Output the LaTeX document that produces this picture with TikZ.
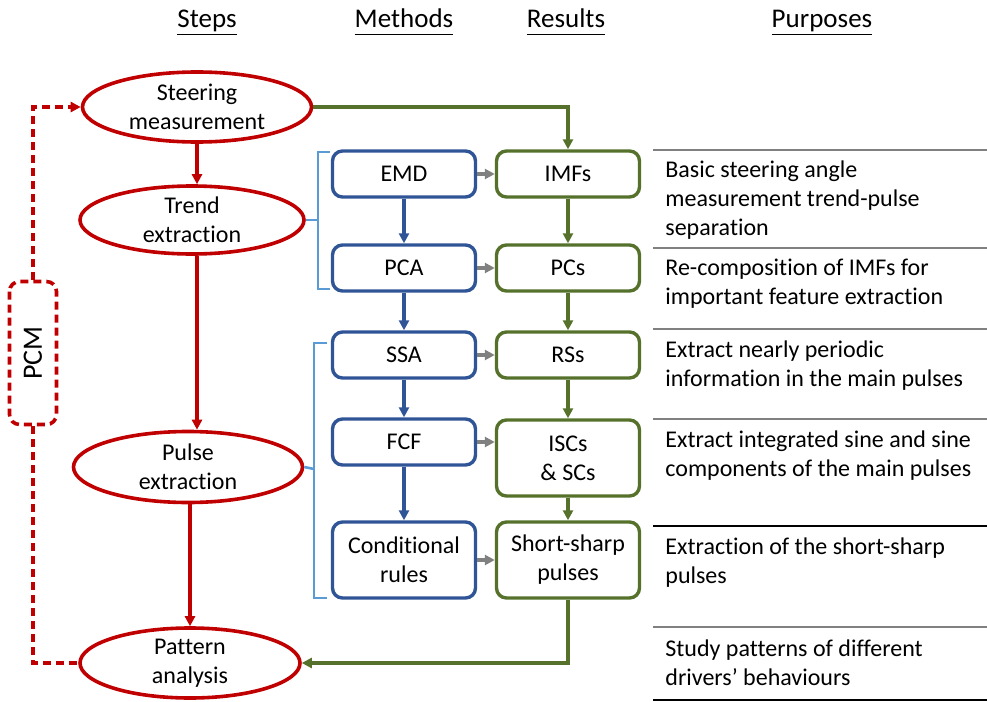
\documentclass[tikz,border=0pt]{standalone}
\usepackage{fontspec}
\setmainfont{Carlito}[Ligatures=NoCommon]
\usepackage{xcolor}
\usetikzlibrary{shapes.geometric, arrows.meta, positioning, calc}
\definecolor{stepred}{HTML}{C00000}
\definecolor{methodblue}{HTML}{2F5597}
\definecolor{resultgreen}{HTML}{55712B}
\definecolor{bracketblue}{HTML}{5B9BD5}
\definecolor{linkgray}{HTML}{808080}
\newcommand{\colhead}[1]{\underline{#1\vphantom{gp}}}

\begin{document}
\begin{tikzpicture}[x=0.5pt, y=-0.5pt, font=\fontsize{12}{14.5}\selectfont,
		>={Triangle[length=5pt, width=5pt]},
		stepnode/.style={ellipse, draw=stepred, line width=1.8pt, align=center, inner sep=0pt},
		methodbox/.style={draw=methodblue, line width=1.7pt, rounded corners=5pt, align=center,
			minimum width=71.5pt, minimum height=23pt, inner sep=1pt},
		resultbox/.style={methodbox, draw=resultgreen},
		header/.style={anchor=base, font=\fontsize{13.5}{16}\selectfont},
		purpose/.style={anchor=west, align=left, inner sep=0pt},
		steplink/.style={->, stepred, line width=1.6pt},
		methodlink/.style={->, methodblue, line width=1.6pt},
		resultlink/.style={->, resultgreen, line width=1.6pt},
		crosslink/.style={->, linkgray, line width=1.6pt},
		pcmlink/.style={stepred, line width=1.8pt, dash pattern=on 4pt off 2.5pt},
		bracket/.style={bracketblue, line width=1.3pt}]
	\useasboundingbox (0,0) rectangle (987,702);
	% ---------- column headers ----------
	\node[header] (hsteps) at (207,27) {\colhead{Steps}};
	\node[header] (hmethods) at (404,27) {\colhead{Methods}};
	\node[header] (hresults) at (566,27) {\colhead{Results}};
	\node[header] (hpurposes) at (822,27) {\colhead{Purposes}};
	% ---------- steps ----------
	\node[stepnode, minimum width=114.5pt, minimum height=35pt] (steer) at (197,107) {Steering\\measurement};
	\node[stepnode, minimum width=112pt, minimum height=34pt] (trend) at (192,220) {Trend\\extraction};
	\node[stepnode, minimum width=114.5pt, minimum height=35.5pt] (pulse) at (188,467) {Pulse\\extraction};
	\node[stepnode, minimum width=110pt, minimum height=35pt] (pattern) at (190,663) {Pattern\\analysis};
	\draw[steplink] (steer.south) -- (steer.south |- trend.north);
	\draw[steplink] ([xshift=2.5pt]trend.south) -- ([xshift=2.5pt]trend.south |- pulse.north);
	\draw[steplink] ([xshift=1pt]pulse.south) -- ([xshift=1pt]pulse.south |- pattern.north);
	% ---------- PCM loop ----------
	\node[draw=stepred, line width=1.8pt, dash pattern=on 4pt off 2.5pt, rounded corners=5pt,
		rotate=90, minimum width=71.5pt, minimum height=23.5pt,
		font=\fontsize{14}{16}\selectfont] (pcm) at (33,353) {PCM};
	\draw[pcmlink, ->] (pcm.east) |- (steer.west);
	\draw[pcmlink] (pcm.west) |- (pattern.west);
	% ---------- methods ----------
	\node[methodbox] (emd) at (404,174) {EMD};
	\node[methodbox] (pca) at (404,268) {PCA};
	\node[methodbox] (ssa) at (404,355) {SSA};
	\node[methodbox] (fcf) at (404,442) {FCF};
	\node[methodbox, minimum height=38pt] (cond) at (404,560) {Conditional\\rules};
	\draw[methodlink] (emd) -- (pca);
	\draw[methodlink] (pca) -- (ssa);
	\draw[methodlink] (ssa) -- (fcf);
	\draw[methodlink] (fcf) -- (cond);
	% ---------- results ----------
	\node[resultbox] (imfs) at (568,174) {IMFs};
	\node[resultbox] (pcs) at (568,268) {PCs};
	\node[resultbox] (rss) at (568,355) {RSs};
	\node[resultbox, minimum height=38pt] (iscs) at (568,458) {ISCs\\\& SCs};
	\node[resultbox, minimum height=38pt] (ssp) at (568,560) {Short-sharp\\pulses};
	\draw[resultlink] (imfs) -- (pcs);
	\draw[resultlink] (pcs) -- (rss);
	\draw[resultlink] (rss) -- (iscs);
	\draw[resultlink] (iscs) -- (ssp);
	\draw[resultlink] (steer.east) -| (imfs.north);
	\draw[resultlink] (ssp.south) |- (pattern.east);
	% method -> result
	\draw[crosslink] (emd.east) -- (imfs.west);
	\draw[crosslink] (pca.east) -- (pcs.west);
	\draw[crosslink] (ssa.east) -- (rss.west);
	\draw[crosslink] (fcf.east) -- (fcf.east -| iscs.west);
	\draw[crosslink] (cond.east) -- (ssp.west);
	% ---------- brackets tying methods to steps ----------
	\coordinate (brtrend) at (318,220);
	\coordinate (brpulse) at (314,469);
	\draw[bracket] (330,152) -- (318,152) -- (318,289) -- (330,289);
	\draw[bracket] (brtrend) -- (trend.east);
	\draw[bracket] (327,343) -- (314,343) -- (314,598) -- (327,598);
	\draw[bracket] (brpulse) -- (pulse.east);
	% ---------- purposes ----------
	\foreach \y/\c in {150/linkgray, 248/linkgray, 329/linkgray, 419/linkgray, 526/black, 627/linkgray, 700/black}
	{
		\draw[\c, line width=1pt] (653,\y) -- (987,\y);
	}
	\node[purpose] (pbasic) at (665,200) {Basic steering angle\\measurement trend-pulse\\separation};
	\node[purpose] (precomp) at (665,284) {Re-composition of IMFs for\\important feature extraction};
	\node[purpose] (pperiod) at (665,366) {Extract nearly periodic\\information in the main pulses};
	\node[purpose] (psine) at (665,456) {Extract integrated sine and sine\\components of the main pulses};
	\node[purpose] (psharp) at (665,563) {Extraction of the short-sharp\\pulses};
	\node[purpose] (pstudy) at (665,663) {Study patterns of different\\drivers’ behaviours};
\end{tikzpicture}
\end{document}
